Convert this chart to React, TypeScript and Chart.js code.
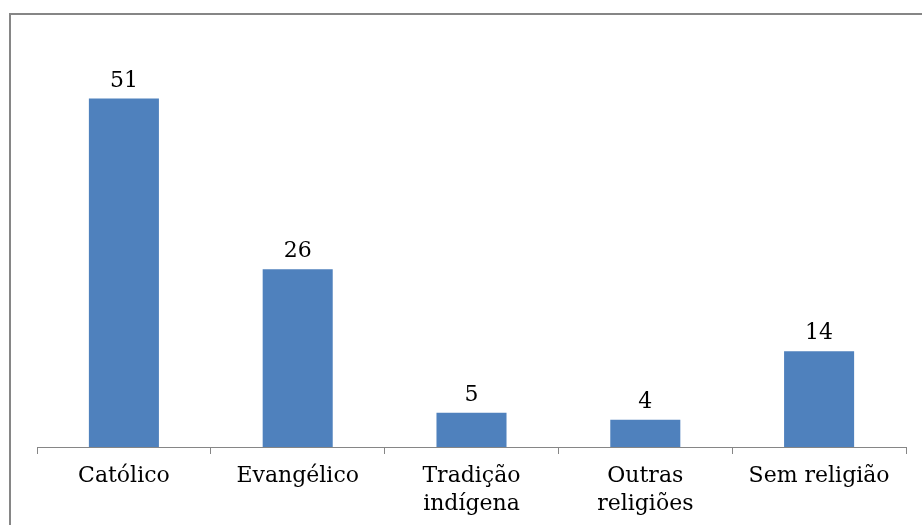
import React, { useEffect, useRef } from "react";
import { Chart, registerables } from "chart.js";

Chart.register(...registerables);

// Religião declarada (%)
const categories: (string | string[])[] = [
  "Católico",
  "Evangélico",
  ["Tradição", "indígena"],
  ["Outras", "religiões"],
  "Sem religião",
];
const values: number[] = [51, 26, 5, 4, 14];
const yMax = 60;

const FONT = "'DejaVu Serif', 'Liberation Serif', serif";
const BAR_COLOR = "#4F81BD";
const FRAME_COLOR = "#868686";

// Frame around the chart, plus white page background
const framePlugin = {
  id: "frame",
  beforeDraw(chart: Chart) {
    const { ctx, width, height } = chart;
    ctx.save();
    ctx.fillStyle = "#ffffff";
    ctx.fillRect(0, 0, width, height);
    ctx.strokeStyle = FRAME_COLOR;
    ctx.lineWidth = 2;
    ctx.beginPath();
    ctx.moveTo(10, height + 5);
    ctx.lineTo(10, 14);
    ctx.lineTo(width + 5, 14);
    ctx.stroke();
    ctx.restore();
  },
};

// Value labels above each bar
const valueLabelPlugin = {
  id: "valueLabels",
  afterDatasetsDraw(chart: Chart) {
    const { ctx } = chart;
    const meta = chart.getDatasetMeta(0);
    ctx.save();
    ctx.font = `22px ${FONT}`;
    ctx.fillStyle = "#000000";
    ctx.textAlign = "center";
    ctx.textBaseline = "alphabetic";
    meta.data.forEach((bar: any, i: number) => {
      const v = chart.data.datasets[0].data[i] as number;
      ctx.fillText(String(v), bar.x, bar.y - 12);
    });
    ctx.restore();
  },
};

export default function App() {
  const canvasRef = useRef<HTMLCanvasElement | null>(null);

  useEffect(() => {
    if (!canvasRef.current) return;
    const chart = new Chart(canvasRef.current, {
      type: "bar",
      data: {
        labels: categories,
        datasets: [
          {
            data: values,
            backgroundColor: BAR_COLOR,
            borderWidth: 0,
            categoryPercentage: 1,
            barPercentage: 0.403,
          },
        ],
      },
      options: {
        animation: false,
        responsive: false,
        devicePixelRatio: 1,
        layout: { padding: { left: 37, right: 16, top: 37, bottom: 0 } },
        plugins: {
          legend: { display: false },
          tooltip: { enabled: false },
        },
        scales: {
          y: { display: false, min: 0, max: yMax },
          x: {
            afterFit: (scale: any) => {
              scale.height = 78;
            },
            border: { display: true, color: FRAME_COLOR, width: 1 },
            grid: {
              display: true,
              drawOnChartArea: false,
              drawTicks: true,
              tickLength: 7,
              offset: true,
              color: FRAME_COLOR,
            },
            ticks: {
              color: "#000000",
              font: { family: FONT, size: 22, lineHeight: 1.25 },
              padding: 9,
              maxRotation: 0,
              autoSkip: false,
            },
          },
        },
      },
      plugins: [framePlugin, valueLabelPlugin],
    });
    return () => chart.destroy();
  }, []);

  return (
    <div style={{ position: "absolute", left: 0, top: 0, width: 922, height: 525, background: "#fff" }}>
      <canvas ref={canvasRef} width={922} height={525} />
    </div>
  );
}
